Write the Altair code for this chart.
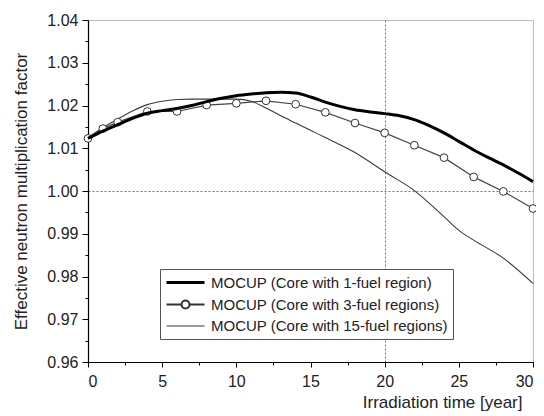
import altair as alt
import pandas as pd

series_names = [
    "MOCUP (Core with 1-fuel region)",
    "MOCUP (Core with 3-fuel regions)",
    "MOCUP (Core with 15-fuel regions)",
]

# 1-fuel region (thick line)
t1 = [0, 1, 2, 3, 4, 5, 6, 7, 8, 9, 10, 11, 12, 13, 14, 15, 16, 17, 18, 19, 20,
      21, 22, 23, 24, 25, 26, 27, 28, 29, 30]
k1 = [1.0123, 1.0140, 1.0155, 1.0170, 1.0182, 1.0188, 1.0193, 1.0200, 1.0209, 1.0217,
      1.0223, 1.0227, 1.0230, 1.0231, 1.0229, 1.0220, 1.0208, 1.0198, 1.0190, 1.0185,
      1.0181, 1.0176, 1.0167, 1.0153, 1.0136, 1.0116, 1.0096, 1.0078, 1.0061, 1.0042,
      1.0022]

# 3-fuel regions (line with open circles)
t3 = [0, 1, 2, 4, 6, 8, 10, 12, 14, 16, 18, 20, 22, 24, 26, 28, 30]
k3 = [1.0123, 1.0146, 1.0161, 1.0186, 1.0186, 1.0201, 1.0205, 1.0211, 1.0203, 1.0184,
      1.0159, 1.0136, 1.0107, 1.0078, 1.0033, 0.9999, 0.9959]

# 15-fuel regions (thin line)
t15 = [0, 1, 2, 3, 4, 5, 6, 7, 8, 9, 10, 11, 12, 13, 14, 15, 16, 17, 18, 19, 20,
       22, 24, 25, 26, 28, 30]
k15 = [1.0125, 1.0148, 1.0168, 1.0187, 1.0202, 1.0210, 1.0214, 1.0215, 1.0215, 1.0215,
       1.0215, 1.0210, 1.0194, 1.0176, 1.0159, 1.0142, 1.0125, 1.0108, 1.0090, 1.0068,
       1.0045, 1.0001, 0.9940, 0.9908, 0.9885, 0.9843, 0.9784]

x_ticks = [0, 2.5, 5, 7.5, 10, 12.5, 15, 17.5, 20, 22.5, 25, 27.5, 30]
y_ticks = [0.96, 0.965, 0.97, 0.975, 0.98, 0.985, 0.99, 0.995, 1.00, 1.005,
           1.01, 1.015, 1.02, 1.025, 1.03, 1.035, 1.04]

df1 = pd.DataFrame({"t": t1, "k": k1, "series": series_names[0]})
df3 = pd.DataFrame({"t": t3, "k": k3, "series": series_names[1]})
df15 = pd.DataFrame({"t": t15, "k": k15, "series": series_names[2]})
df_leg = pd.DataFrame({"series": series_names})

FONT = "Liberation Sans"

x_enc = alt.X(
    "t:Q",
    scale=alt.Scale(domain=[0, 30], nice=False, zero=False),
    axis=alt.Axis(
        values=x_ticks,
        labelExpr="datum.value % 5 == 0 ? format(datum.value, 'd') : ''",
        tickSize={"condition": {"test": "datum.value % 5 == 0", "value": 5}, "value": 3},
        grid=True,
        gridOpacity={"condition": {"test": "datum.value == 20", "value": 1}, "value": 0},
        gridDash=[2, 2],
        gridColor="#777777",
        gridWidth=1,
        title="Irradiation time [year]",
        titleX=434,
        titleY=40,
        titleAlign="right",
        titleBaseline="middle",
        labelPadding=6,
    ),
)

y_enc = alt.Y(
    "k:Q",
    scale=alt.Scale(domain=[0.96, 1.04], nice=False, zero=False),
    axis=alt.Axis(
        values=y_ticks,
        labelExpr="round(datum.value * 1000) % 10 == 0 ? format(datum.value, '.2f') : ''",
        tickSize={"condition": {"test": "round(datum.value * 1000) % 10 == 0", "value": 6},
                  "value": 3},
        grid=True,
        gridOpacity={"condition": {"test": "abs(datum.value - 1) < 0.0001", "value": 1},
                     "value": 0},
        gridDash=[2, 2],
        gridColor="#777777",
        gridWidth=1,
        title="Effective neutron multiplication factor",
        titleX=-67,
        titleY=171,
        titleAngle=270,
        titleAlign="center",
        titleBaseline="middle",
        labelPadding=4,
    ),
)

line15 = alt.Chart(df15).mark_line(
    color="#3a3a3a", strokeWidth=1.1, interpolate="monotone"
).encode(x=x_enc, y=y_enc)

line3 = alt.Chart(df3).mark_line(color="#454545", strokeWidth=1.2).encode(x=x_enc, y=y_enc)
pts3 = alt.Chart(df3).mark_point(
    shape="circle", filled=True, fill="white", stroke="#333333", strokeWidth=1,
    size=60, opacity=1
).encode(x=x_enc, y=y_enc)

line1 = alt.Chart(df1).mark_line(
    color="black", strokeWidth=3, interpolate="monotone"
).encode(x=x_enc, y=y_enc)

# legend-only layer (rows lack t/k, so nothing is drawn in the plot)
p_line = "M-1,0H4.43"
p_circ = ("M-1,0H1.143M2.286,0H4.43"
          "M1.143,0A0.571,0.571 0 1,0 2.286,0A0.571,0.571 0 1,0 1.143,0")
legend_layer = alt.Chart(df_leg).mark_point(filled=False, size=196, opacity=1).encode(
    x=x_enc,
    y=y_enc,
    shape=alt.Shape("series:N", scale=alt.Scale(domain=series_names,
                                                 range=[p_line, p_circ, p_line]),
                    legend=alt.Legend(title=None)),
    color=alt.Color("series:N", scale=alt.Scale(domain=series_names,
                                                 range=["black", "#333333", "#3a3a3a"]),
                    legend=alt.Legend(title=None)),
    strokeWidth=alt.StrokeWidth("series:N", scale=alt.Scale(domain=series_names,
                                                             range=[3, 1.1, 1.1]),
                                legend=alt.Legend(title=None)),
)

chart = alt.layer(line15, line3, pts3, line1, legend_layer).properties(
    width=445,
    height=342,
    padding={"left": 80, "top": 12, "right": 3, "bottom": 54},
    autosize=alt.AutoSizeParams(type="none"),
).configure_view(
    stroke="#bbbbbb", strokeWidth=1
).configure_axis(
    labelFont=FONT,
    labelFontSize=16,
    labelColor="#222222",
    titleFont=FONT,
    titleFontSize=17,
    titleFontWeight="normal",
    titleColor="#222222",
    domainColor="black",
    domainWidth=1.2,
    tickColor="black",
    tickWidth=1,
).configure_legend(
    orient="none",
    legendX=72,
    legendY=249,
    labelFont=FONT,
    labelFontSize=15,
    labelColor="#222222",
    labelLimit=400,
    labelOffset=29,
    symbolSize=196,
    rowPadding=5,
    padding=5,
    strokeColor="#555555",
    fillColor="white",
    cornerRadius=0,
)

chart.save("out.html", embed_options={"renderer": "svg", "actions": False})
